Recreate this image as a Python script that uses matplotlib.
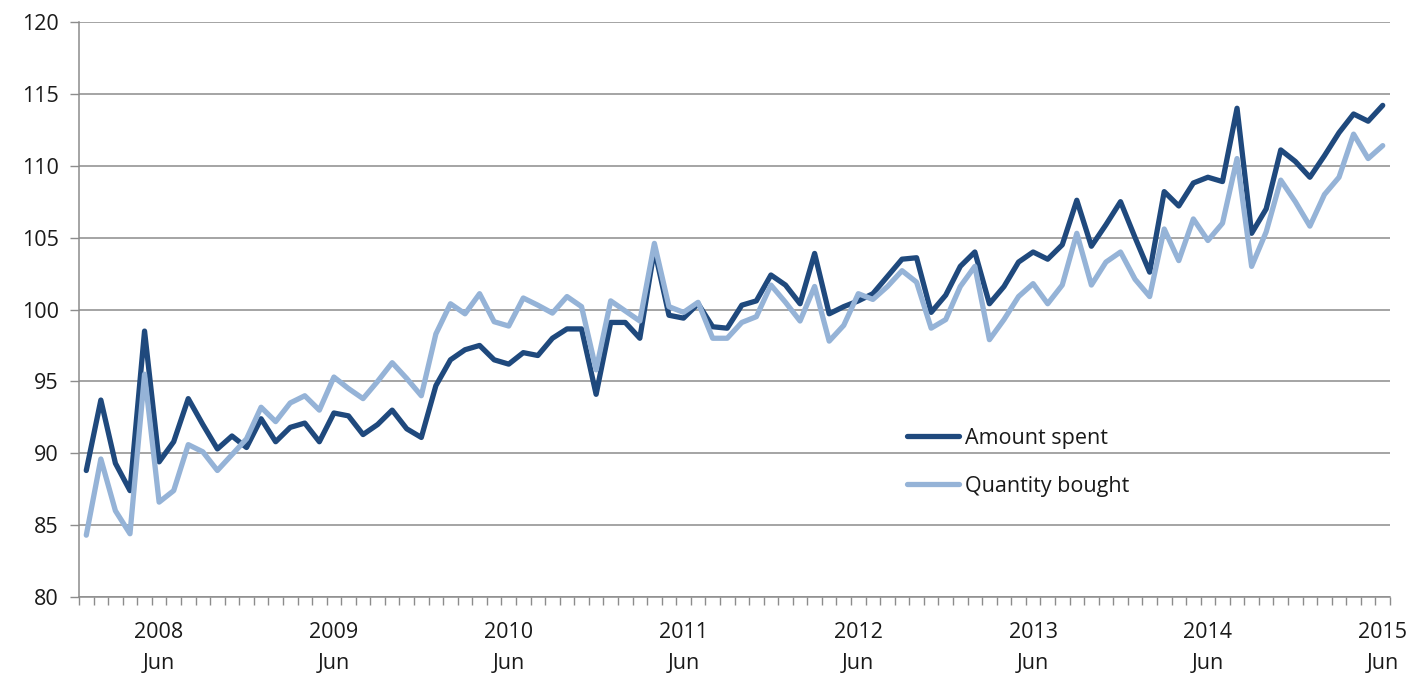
import numpy as np
import matplotlib
matplotlib.use("Agg")
import matplotlib.pyplot as plt
from matplotlib.ticker import FixedLocator

# Monthly index, Jan 2008 .. Jun 2015
years = list(range(2008, 2016))
months = ["Jan", "Feb", "Mar", "Apr", "May", "Jun", "Jul", "Aug", "Sep", "Oct", "Nov", "Dec"]
periods = [f"{m} {y}" for y in years for m in months][:90]

amount_spent = [
    88.8, 93.7, 89.3, 87.4, 98.5, 89.4, 90.8, 93.8, 92.0, 90.3,
    91.2, 90.4, 92.4, 90.8, 91.8, 92.1, 90.8, 92.8, 92.6, 91.3,
    92.0, 93.0, 91.7, 91.1, 94.7, 96.5, 97.2, 97.5, 96.5, 96.2,
    97.0, 96.8, 98.0, 98.65, 98.65, 94.1, 99.1, 99.1, 98.0, 104.2,
    99.6, 99.4, 100.4, 98.8, 98.7, 100.3, 100.6, 102.4, 101.7, 100.4,
    103.9, 99.7, 100.2, 100.6, 101.1, 102.3, 103.5, 103.6, 99.8, 101.0,
    103.0, 104.0, 100.4, 101.6, 103.3, 104.0, 103.5, 104.5, 107.6, 104.4,
    105.9, 107.5, 105.0, 102.6, 108.2, 107.2, 108.8, 109.2, 108.9, 114.0,
    105.3, 107.0, 111.1, 110.3, 109.2, 110.7, 112.3, 113.6, 113.1, 114.2,
]

quantity_bought = [
    84.3, 89.6, 86.0, 84.4, 95.5, 86.6, 87.4, 90.6, 90.1, 88.8,
    89.9, 91.0, 93.2, 92.2, 93.5, 94.0, 93.0, 95.3, 94.5, 93.8,
    95.0, 96.3, 95.2, 94.0, 98.3, 100.4, 99.7, 101.1, 99.15, 98.85,
    100.8, 100.3, 99.75, 100.9, 100.2, 95.8, 100.6, 99.9, 99.2, 104.6,
    100.2, 99.8, 100.5, 98.0, 98.0, 99.1, 99.5, 101.7, 100.5, 99.2,
    101.6, 97.8, 98.9, 101.1, 100.7, 101.6, 102.7, 101.9, 98.7, 99.3,
    101.6, 103.0, 97.9, 99.3, 100.9, 101.8, 100.4, 101.7, 105.3, 101.7,
    103.3, 104.0, 102.1, 100.9, 105.6, 103.4, 106.3, 104.8, 106.0, 110.5,
    103.0, 105.4, 109.0, 107.5, 105.8, 108.0, 109.2, 112.2, 110.5, 111.4,
]

series_labels = ["Amount spent", "Quantity bought"]
y_ticks = [80, 85, 90, 95, 100, 105, 110, 115, 120]

plt.rcParams['font.family'] = ['Open Sans', 'DejaVu Sans']

DARK = "#1F497D"
LIGHT = "#95B3D7"
GRID = "#8C8C8C"
TEXT = "#1a1a1a"
FS = 15.5

fig = plt.figure(figsize=(14.25, 6.74), dpi=100)
ax = fig.add_axes([79 / 1425, 1 - 597 / 674, (1390 - 79) / 1425, (597 - 22) / 674])

x = np.arange(len(periods))
ax.plot(x, amount_spent, color=DARK, lw=3.8, solid_joinstyle='round', solid_capstyle='round',
        label=series_labels[0], zorder=2)
ax.plot(x, quantity_bought, color=LIGHT, lw=3.8, solid_joinstyle='round', solid_capstyle='round',
        label=series_labels[1], zorder=3)

ax.set_xlim(-0.5, len(periods) - 0.5)
ax.set_ylim(80, 120)
ax.set_yticks(y_ticks)
ax.set_yticklabels([str(v) for v in y_ticks])
ax.grid(axis='y', color=GRID, lw=1.1)
ax.set_axisbelow(True)

# Year/June labels under June of each year
jun_idx = [i for i, p in enumerate(periods) if p.startswith("Jun")]
ax.set_xticks(jun_idx)
ax.set_xticklabels([f"{periods[i].split()[1]}\nJun" for i in jun_idx], linespacing=1.6)
ax.xaxis.set_minor_locator(FixedLocator(np.arange(-0.5, len(periods), 1.0)))
ax.tick_params(axis='x', which='major', length=0, pad=18, labelsize=FS, labelcolor=TEXT)
ax.tick_params(axis='x', which='minor', length=5.5, width=1.0, color=GRID, direction='out')
ax.tick_params(axis='y', length=6.5, width=1.0, color=GRID, pad=8, labelsize=FS, labelcolor=TEXT)

for s in ['top', 'right']:
    ax.spines[s].set_visible(False)
for s in ['left', 'bottom']:
    ax.spines[s].set_color(GRID)
    ax.spines[s].set_linewidth(1.1)

leg = ax.legend(loc='upper left', bbox_to_anchor=(0.617, 0.328), frameon=False,
                fontsize=FS, handlelength=2.4, handletextpad=0.3, labelspacing=1.25)
for t in leg.get_texts():
    t.set_color(TEXT)

fig.savefig("out.png", dpi=100)
